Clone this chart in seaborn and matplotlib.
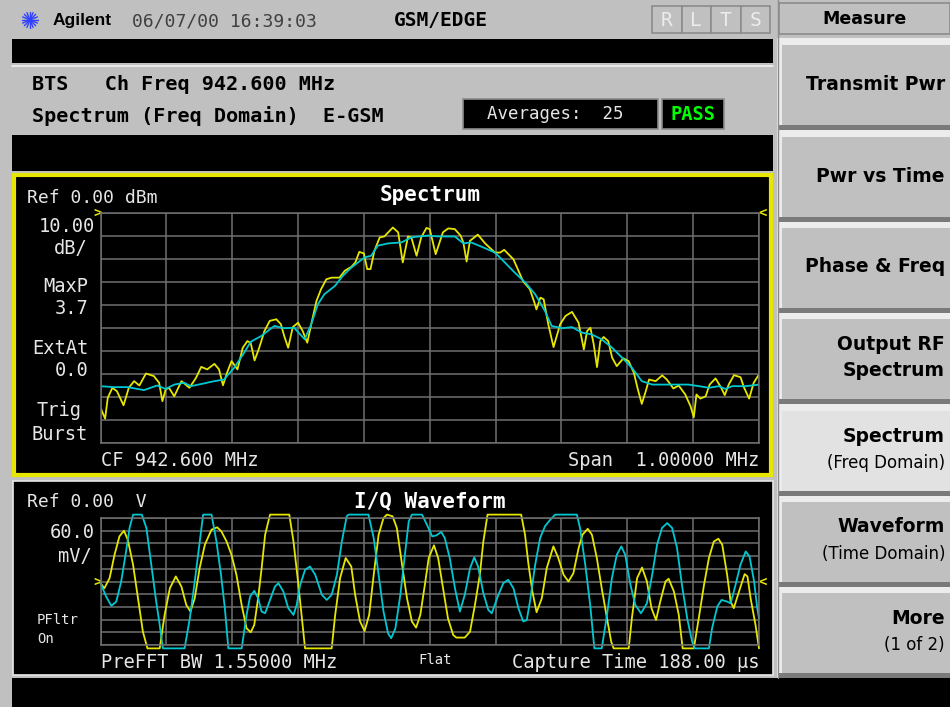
import matplotlib
matplotlib.use("Agg")
import matplotlib.pyplot as plt
from matplotlib.patches import Rectangle
import numpy as np
import pandas as pd
import seaborn as sns

# ---- Spectrum traces: offset from CF 942.600 MHz (kHz) / level (dBm)
avg_khz = [-500, -480, -459, -434, -414, -401, -388, -373, -363, -343, -327, -312,
           -307, -297, -282, -272, -256, -246, -236, -221, -206, -190, -180, -170,
           -160, -144, -132, -119, -109, -99, -89, -79, -63, -43, -28, -3,
           13, 38, 51, 63, 79, 99, 114, 129, 145, 160, 175, 185,
           201, 216, 231, 246, 261, 277, 292, 307, 322, 338, 353, 373,
           393, 409, 424, 439, 449, 459, 480, 500]
avg_dbm = [-75.3, -75.7, -75.7, -77.0, -75.0, -76.5, -74.6, -73.8, -75.3, -74.1, -73.1, -72.4,
           -70.5, -67.3, -60.8, -56.0, -53.5, -51.3, -49.1, -50.1, -49.9, -54.9, -48.4, -39.7,
           -35.3, -31.7, -27.3, -23.7, -21.5, -19.3, -18.6, -14.2, -13.2, -12.8, -10.6, -9.8,
           -10.2, -10.2, -13.2, -12.8, -14.7, -17.2, -21.5, -25.9, -30.2, -35.3, -42.6, -49.1,
           -50.1, -49.6, -52.0, -52.8, -54.9, -58.6, -62.9, -67.3, -73.1, -74.6, -74.6, -74.6,
           -74.6, -75.3, -76.0, -75.3, -76.5, -75.3, -75.3, -74.6]

cur_khz = [-500, -493, -489, -482, -475, -465, -457, -449, -441, -431, -419, -411,
           -406, -401, -396, -388, -377, -365, -355, -347, -338, -327, -320, -314,
           -307, -301, -292, -284, -277, -272, -266, -259, -251, -243, -233, -226,
           -221, -215, -208, -200, -193, -186, -180, -172, -165, -157, -149, -137,
           -129, -119, -113, -107, -100, -95, -90, -84, -76, -69, -56, -48,
           -41, -33, -28, -20, -13, -5, 0, 9, 20, 28, 38, 47,
           51, 56, 61, 73, 84, 99, 107, 113, 127, 142, 152, 159,
           162, 168, 173, 180, 188, 198, 206, 216, 226, 234, 239, 244,
           249, 254, 259, 264, 271, 277, 284, 294, 302, 310, 316, 322,
           328, 333, 343, 353, 360, 370, 378, 388, 396, 401, 405, 411,
           419, 425, 434, 442, 448, 454, 462, 472, 477, 485, 492, 500]
cur_dbm = [-84.7, -89.4, -80.4, -76.0, -77.5, -83.6, -76.0, -73.1, -75.0, -69.8, -70.9, -73.8,
           -81.8, -76.7, -76.0, -79.7, -73.1, -76.0, -71.7, -66.9, -68.0, -65.6, -68.0, -74.9,
           -68.8, -64.4, -68.0, -58.6, -55.7, -56.4, -64.1, -58.6, -51.3, -46.9, -46.2, -48.4,
           -53.5, -58.6, -49.6, -47.7, -51.3, -56.4, -48.4, -38.2, -33.1, -28.8, -28.1, -28.1,
           -25.1, -23.4, -21.5, -16.9, -17.6, -24.4, -24.4, -16.4, -10.6, -10.2, -6.3, -8.4,
           -21.5, -10.2, -10.6, -18.6, -10.6, -6.5, -7.0, -17.9, -8.4, -6.7, -7.0, -9.9,
           -12.8, -21.1, -12.1, -9.4, -13.2, -17.2, -17.2, -16.0, -20.1, -29.8, -33.1, -39.0,
           -41.9, -36.8, -37.5, -48.4, -58.3, -48.4, -44.8, -43.0, -47.7, -59.3, -51.3, -49.9,
           -57.1, -67.0, -55.7, -53.9, -55.7, -62.9, -66.6, -63.2, -64.4, -69.5, -76.7, -83.0,
           -77.5, -72.4, -73.1, -70.6, -72.4, -76.3, -75.0, -78.9, -84.0, -88.8, -78.9, -80.7,
           -79.7, -74.6, -71.9, -75.7, -79.2, -74.6, -70.5, -71.4, -75.7, -80.7, -73.8, -70.2]

# ---- I/Q waveform: time (us) / voltage (mV)
i_us = [0.0, 1.1, 2.6, 4.0, 5.4, 6.7, 7.8, 9.3, 10.7, 12.1, 13.4, 16.9,
        18.3, 19.8, 21.5, 23.1, 24.5, 25.7, 26.9, 28.3, 29.8, 31.7, 33.3, 34.5,
        36.0, 37.4, 38.8, 40.3, 41.7, 42.9, 43.9, 45.0, 46.0, 47.0, 48.4, 53.9,
        55.1, 56.5, 57.4, 58.4, 66.0, 67.0, 68.4, 70.0, 71.6, 72.7, 74.1, 75.4,
        76.7, 78.0, 79.4, 80.8, 81.8, 83.4, 84.6, 86.1, 87.5, 88.9, 90.1, 91.3,
        92.6, 93.7, 95.2, 96.4, 97.8, 99.2, 100.7, 101.6, 104.0, 105.5, 106.9, 108.3,
        109.3, 110.5, 120.1, 121.2, 122.2, 123.3, 124.5, 126.0, 127.4, 129.3, 130.7, 132.2,
        133.6, 135.0, 136.5, 137.6, 139.1, 140.3, 141.7, 143.1, 144.6, 145.8, 146.5, 150.8,
        151.7, 153.2, 154.6, 156.0, 157.3, 158.6, 159.8, 161.3, 162.2, 163.7, 165.1, 166.2,
        169.4, 170.8, 172.3, 173.7, 175.1, 176.4, 177.5, 178.9, 179.9, 180.8, 182.3, 183.9,
        184.7, 185.6, 187.0, 188.0]
i_mv = [-8, -32, 16, 126, 213, 240, 197, 79, -79, -237, -316, -316,
        -158, -32, 24, -24, -111, -142, -79, 63, 174, 245, 256, 237,
        189, 126, 32, -111, -221, -240, -205, -79, 63, 221, 316, 316,
        189, -16, -158, -316, -316, -158, 16, 111, 71, -63, -189, -234,
        -158, 32, 221, 300, 316, 308, 253, 79, -79, -189, -218, -158,
        -16, 111, 171, 111, -32, -174, -253, -265, -265, -237, -111, 32,
        189, 316, 316, 221, 79, -47, -145, -79, 63, 166, 111, 32,
        0, 39, 158, 221, 249, 221, 111, -32, -174, -284, -316, -316,
        -174, 16, 66, 0, -126, -182, -95, 0, 13, -47, -158, -316,
        -316, -174, -16, 111, 189, 202, 174, 32, -95, -126, -47, 35,
        24, -79, -205, -316]

q_us = [0.0, 1.6, 3.1, 4.5, 5.9, 7.3, 8.3, 9.3, 11.8, 13.1, 14.5, 15.9,
        16.9, 17.8, 24.0, 25.5, 26.9, 28.1, 29.3, 31.7, 33.1, 34.4, 35.5, 36.5,
        40.3, 41.7, 42.7, 43.9, 45.0, 46.0, 47.0, 48.4, 49.8, 50.8, 52.2, 53.6,
        55.1, 56.0, 57.0, 58.4, 59.8, 61.3, 63.2, 64.6, 66.0, 67.5, 68.9, 70.3,
        70.8, 76.5, 78.0, 79.4, 80.8, 82.1, 83.0, 84.2, 85.6, 86.8, 88.0, 88.9,
        91.8, 93.2, 94.7, 95.9, 97.3, 98.3, 99.7, 101.2, 102.6, 104.0, 105.5, 106.7,
        107.8, 109.3, 110.7, 111.7, 113.6, 115.0, 116.4, 117.9, 119.3, 120.7, 121.7, 122.6,
        124.1, 125.5, 126.9, 128.4, 129.8, 136.0, 136.9, 138.4, 139.8, 141.0, 143.1, 144.6,
        146.0, 147.4, 148.7, 149.8, 151.3, 152.7, 154.3, 156.0, 157.5, 158.9, 160.3, 161.8,
        163.2, 164.6, 166.0, 167.5, 168.9, 169.6, 173.7, 174.6, 176.1, 177.3, 178.9, 179.9,
        181.3, 182.7, 184.2, 185.3, 186.6, 187.5, 188.0]
q_mv = [-8, -71, -115, -95, 0, 142, 253, 316, 316, 253, 79, -95,
        -205, -316, -316, -174, 0, 158, 316, 316, 189, 32, -126, -316,
        -316, -158, -71, -44, -79, -142, -150, -87, -24, -8, -47, -126,
        -158, -111, -16, 55, 71, 32, -63, -87, -63, 32, 189, 308,
        316, 316, 205, 32, -142, -245, -268, -221, -63, 111, 284, 316,
        316, 268, 213, 218, 234, 205, 111, -32, -142, -63, 63, 114,
        71, -55, -134, -150, -63, -8, 8, -32, -126, -189, -182, -95,
        79, 205, 261, 292, 316, 316, 253, 79, -111, -316, -316, -158,
        16, 126, 166, 126, -16, -111, -150, -103, 32, 174, 253, 276,
        253, 158, -16, -174, -284, -316, -316, -221, -118, -87, -95, -103,
        -16, 79, 142, 118, 0, -126, -174]

softkeys = [("Transmit Pwr", None), ("Pwr vs Time", None), ("Phase & Freq", None),
            ("Output RF", "Spectrum"), ("Spectrum", "(Freq Domain)"),
            ("Waveform", "(Time Domain)"), ("More", "(1 of 2)")]

GRAY = "#c0c0c0"
YEL = "#e6e600"
CYAN = "#00c8d2"
GRID = "#707070"
TXT = "#e6e6e6"
MONO = "DejaVu Sans Mono"

sns.set_theme(style="dark")
plt.rcParams["font.family"] = [MONO, "DejaVu Sans"]

W, H = 950, 707
fig = plt.figure(figsize=(W / 100, H / 100), dpi=100, facecolor=GRAY)

# background / frame drawn in pixel coordinates
bg = fig.add_axes([0, 0, 1, 1])
bg.set_xlim(0, W)
bg.set_ylim(H, 0)
bg.axis("off")
bg.set_facecolor(GRAY)


def box(x0, y0, x1, y1, fc, ec="none", lw=0):
    bg.add_patch(Rectangle((x0, y0), x1 - x0, y1 - y0, fc=fc, ec=ec, lw=lw))


def txt(x, y, s, size=13, color=TXT, ha="left", weight="normal", family=MONO):
    bg.text(x, y, s, fontsize=size, color=color, ha=ha, va="center",
            fontweight=weight, family=family)


# header row
cx, cy = 30, 20
for a in np.linspace(0, np.pi, 8, endpoint=False):
    bg.plot([cx - 8 * np.cos(a), cx + 8 * np.cos(a)], [cy - 8 * np.sin(a), cy + 8 * np.sin(a)],
            color="#3040ff", lw=1)
txt(53, 20, "Agilent", 12.5, "#000000", weight="bold", family="Liberation Sans")
txt(132, 21, "06/07/00 16:39:03", 13, "#404040")
txt(394, 21, "GSM/EDGE", 14, "#000000", weight="bold")
for k, ch in enumerate("RLTS"):
    x0 = 652 + k * 29.5
    box(x0, 6, x0 + 29.5, 33, GRAY, "#8c8c8c", 1.2)
    txt(x0 + 14.7, 20, ch, 14, "#ececec", ha="center")

# black bars
box(12, 39, 773, 63, "black")
bg.plot([12, 773], [65.5, 65.5], color="#f0f0f0", lw=1.2)
txt(32, 85, "BTS   Ch Freq 942.600 MHz", 14.5, "#000000", weight="bold")
txt(32, 116, "Spectrum (Freq Domain)  E-GSM", 14.5, "#000000", weight="bold")
box(463, 99, 658, 129, "black", "#8c8c8c", 1.2)
txt(487, 114, "Averages:  25", 12.5, TXT)
box(662, 99, 724, 129, "black", "#8c8c8c", 1.2)
txt(693, 115, "PASS", 13.5, "#00ff00", ha="center", weight="bold")
box(12, 135, 773, 171, "black")

# spectrum panel
box(14, 175, 771, 475, "black", YEL, 3)
txt(27, 198, "Ref 0.00 dBm", 13)
txt(430, 195, "Spectrum", 15, "#ffffff", ha="center", weight="bold")
for s, y, r in [("10.00", 226, 95), ("dB/", 248, 88), ("MaxP", 287, 88), ("3.7", 308, 88),
                ("ExtAt", 348, 88), ("0.0", 370, 88), ("Burst", 435, 88)]:
    txt(r, y, s, 13.5, ha="right")
txt(37, 411, "Trig", 13.5)
txt(101, 460, "CF 942.600 MHz", 13.5)
txt(759, 460, "Span  1.00000 MHz", 13.5, ha="right")

# waveform panel
box(13, 481, 773, 675, "black", "#e8e8e8", 1.2)
txt(27, 502, "Ref 0.00  V", 13)
txt(430, 501, "I/Q Waveform", 15, "#ffffff", ha="center", weight="bold")
txt(95, 532, "60.0", 13.5, ha="right")
txt(92, 557, "mV/", 13.5, ha="right")
txt(37, 620, "PFltr", 10)
txt(37, 639, "On", 10)
txt(101, 662, "PreFFT BW 1.55000 MHz", 13.5)
txt(435, 660, "Flat", 10, ha="center")
txt(759, 662, "Capture Time 188.00 μs", 13.5, ha="right")

# yellow reference chevrons
for x, y, s in [(98, 213, ">"), (763, 213, "<"), (98, 582, ">"), (763, 582, "<")]:
    txt(x, y, s, 10, YEL, ha="center", weight="bold")

box(12, 678, W, H, "black")

# softkey column
box(777, 38, W, 678, "#ececec")
bg.plot([777.5, 777.5], [0, 678], color="#8c8c8c", lw=1)
box(779, 3, W, 34, GRAY, "#8c8c8c", 1.2)
txt(865, 19, "Measure", 12.5, "#000000", ha="center", weight="bold", family="DejaVu Sans")
tops = [45, 137, 228, 319, 411, 502, 593]
for (l1, l2), top in zip(softkeys, tops):
    fc = "#e2e2e2" if l1 == "Spectrum" else GRAY
    box(782, top, W, top + 80, fc)
    box(779, top + 80, W, top + 85, "#7a7a7a")
    if l2 is None:
        txt(945, top + 39, l1, 13.5, "#000000", ha="right", weight="bold", family="DejaVu Sans")
    else:
        txt(945, top + 25, l1, 13.5, "#000000", ha="right", weight="bold", family="DejaVu Sans")
        w2 = "bold" if l1 == "Output RF" else "normal"
        s2 = 13.5 if w2 == "bold" else 12
        txt(945, top + 52, l2, s2, "#000000", ha="right", weight=w2, family="DejaVu Sans")


def grid_axes(px_left, px_top, px_right, px_bottom):
    ax = fig.add_axes([px_left / W, 1 - px_bottom / H,
                       (px_right - px_left) / W, (px_bottom - px_top) / H])
    ax.set_facecolor("black")
    for sp in ax.spines.values():
        sp.set_color(GRID)
        sp.set_linewidth(1.1)
    ax.tick_params(length=0, labelbottom=False, labelleft=False)
    ax.grid(True, color=GRID, lw=1.1)
    ax.set_xlabel("")
    ax.set_ylabel("")
    return ax


# spectrum traces
ax1 = grid_axes(100.5, 213, 759, 443)
spec_avg = pd.DataFrame({"khz": avg_khz, "dbm": avg_dbm})
spec_cur = pd.DataFrame({"khz": cur_khz, "dbm": cur_dbm})
sns.lineplot(data=spec_cur, x="khz", y="dbm", ax=ax1, color=YEL, lw=1.3,
             estimator=None, sort=False)
sns.lineplot(data=spec_avg, x="khz", y="dbm", ax=ax1, color=CYAN, lw=1.3,
             estimator=None, sort=False)
ax1.set_xlim(-500, 500)
ax1.set_ylim(-100, 0)
ax1.set_xticks(np.linspace(-500, 500, 11))
ax1.set_yticks(np.linspace(-100, 0, 11))
ax1.set_xlabel("")
ax1.set_ylabel("")

# I/Q traces
ax2 = grid_axes(100.5, 518, 759, 645)
wave_i = pd.DataFrame({"us": i_us, "mv": i_mv})
wave_q = pd.DataFrame({"us": q_us, "mv": q_mv})
sns.lineplot(data=wave_i, x="us", y="mv", ax=ax2, color=YEL, lw=1.3,
             estimator=None, sort=False)
sns.lineplot(data=wave_q, x="us", y="mv", ax=ax2, color=CYAN, lw=1.3,
             estimator=None, sort=False)
for ln in ax2.lines:
    ln.set_clip_on(False)
ax2.set_xlim(0, 188)
ax2.set_ylim(-300, 300)
ax2.set_xticks(np.linspace(0, 188, 11))
ax2.set_yticks(np.linspace(-300, 300, 11))
ax2.set_xlabel("")
ax2.set_ylabel("")

fig.savefig("out.png", dpi=100, facecolor=GRAY)
